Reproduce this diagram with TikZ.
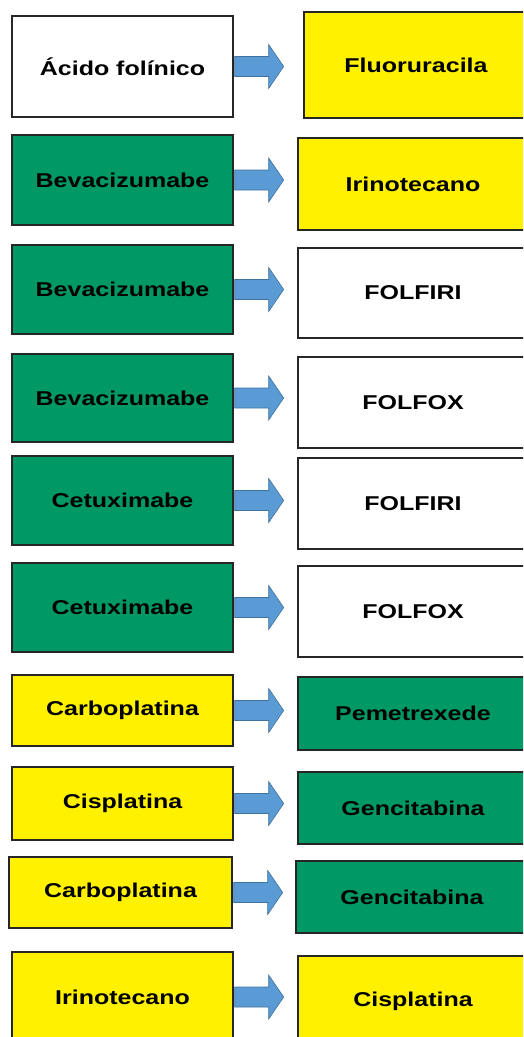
\documentclass[tikz,border=0pt]{standalone}
\usepackage{fontspec}
\setmainfont{Liberation Sans}
\usepackage{graphicx}
\definecolor{drugyellow}{RGB}{255,241,0}
\definecolor{druggreen}{RGB}{0,152,100}
\definecolor{arrowfill}{RGB}{91,155,213}
\definecolor{arrowline}{RGB}{65,113,156}
\newcommand{\widelbl}[1]{\scalebox{1.25}[1]{#1}}

\begin{document}
\begin{tikzpicture}[x=1pt,y=-1pt,
  box/.style={draw=black!85,line width=1.4pt,inner sep=0pt,
    font=\fontsize{20}{22}\selectfont\bfseries},
  whitebox/.style={box,fill=white},
  yellowbox/.style={box,fill=drugyellow},
  greenbox/.style={box,fill=druggreen},
  blockarrow/.style={fill=arrowfill,draw=arrowline,line width=0.6pt,line join=miter}]
\useasboundingbox (0,0) rectangle (523,1037);
\clip (0,0) rectangle (523,1037);
\fill[white] (0,0) rectangle (523,1037);

\node[whitebox,minimum width=221pt,minimum height=101pt] (l1) at (122.5,66.5) {\widelbl{Ácido folínico}};
\node[yellowbox,minimum width=224pt,minimum height=106pt] (r1) at (416,65) {\widelbl{Fluoruracila}};

\node[greenbox,minimum width=221pt,minimum height=90pt] (l2) at (122.5,180) {\widelbl{Bevacizumabe}};
\node[yellowbox,minimum width=230pt,minimum height=92pt] (r2) at (413,184) {\widelbl{Irinotecano}};

\node[greenbox,minimum width=221pt,minimum height=89pt] (l3) at (122.5,289.5) {\widelbl{Bevacizumabe}};
\node[whitebox,minimum width=230pt,minimum height=90pt] (r3) at (413,293) {\widelbl{FOLFIRI}};

\node[greenbox,minimum width=221pt,minimum height=88pt] (l4) at (122.5,398) {\widelbl{Bevacizumabe}};
\node[whitebox,minimum width=230pt,minimum height=91pt] (r4) at (413,402.5) {\widelbl{FOLFOX}};

\node[greenbox,minimum width=221pt,minimum height=89pt] (l5) at (122.5,500.5) {\widelbl{Cetuximabe}};
\node[whitebox,minimum width=230pt,minimum height=91pt] (r5) at (413,503.5) {\widelbl{FOLFIRI}};

\node[greenbox,minimum width=221pt,minimum height=89pt] (l6) at (122.5,607.5) {\widelbl{Cetuximabe}};
\node[whitebox,minimum width=230pt,minimum height=91pt] (r6) at (413,611.5) {\widelbl{FOLFOX}};

\node[yellowbox,minimum width=221pt,minimum height=71pt] (l7) at (122.5,710.5) {\widelbl{Carboplatina}};
\node[greenbox,minimum width=230pt,minimum height=73pt] (r7) at (413,713.5) {\widelbl{Pemetrexede}};

\node[yellowbox,minimum width=221pt,minimum height=73pt] (l8) at (122.5,803.5) {\widelbl{Cisplatina}};
\node[greenbox,minimum width=230pt,minimum height=72pt] (r8) at (413,808) {\widelbl{Gencitabina}};

\node[yellowbox,minimum width=223pt,minimum height=71pt] (l9) at (120.5,892.5) {\widelbl{Carboplatina}};
\node[greenbox,minimum width=232pt,minimum height=72pt] (r9) at (412,897) {\widelbl{Gencitabina}};

\node[yellowbox,minimum width=221pt,minimum height=90pt] (l10) at (122.5,997) {\widelbl{Irinotecano}};
\node[yellowbox,minimum width=230pt,minimum height=90pt] (r10) at (413,1001) {\widelbl{Cisplatina}};

\foreach \i in {1,...,10}
  \draw[blockarrow] (l\i.east) ++(1,-10) -- ++(34,0) -- ++(0,-12) -- ++(15,22)
    -- ++(-15,22) -- ++(0,-12) -- ++(-34,0) -- cycle;
\end{tikzpicture}
\end{document}
